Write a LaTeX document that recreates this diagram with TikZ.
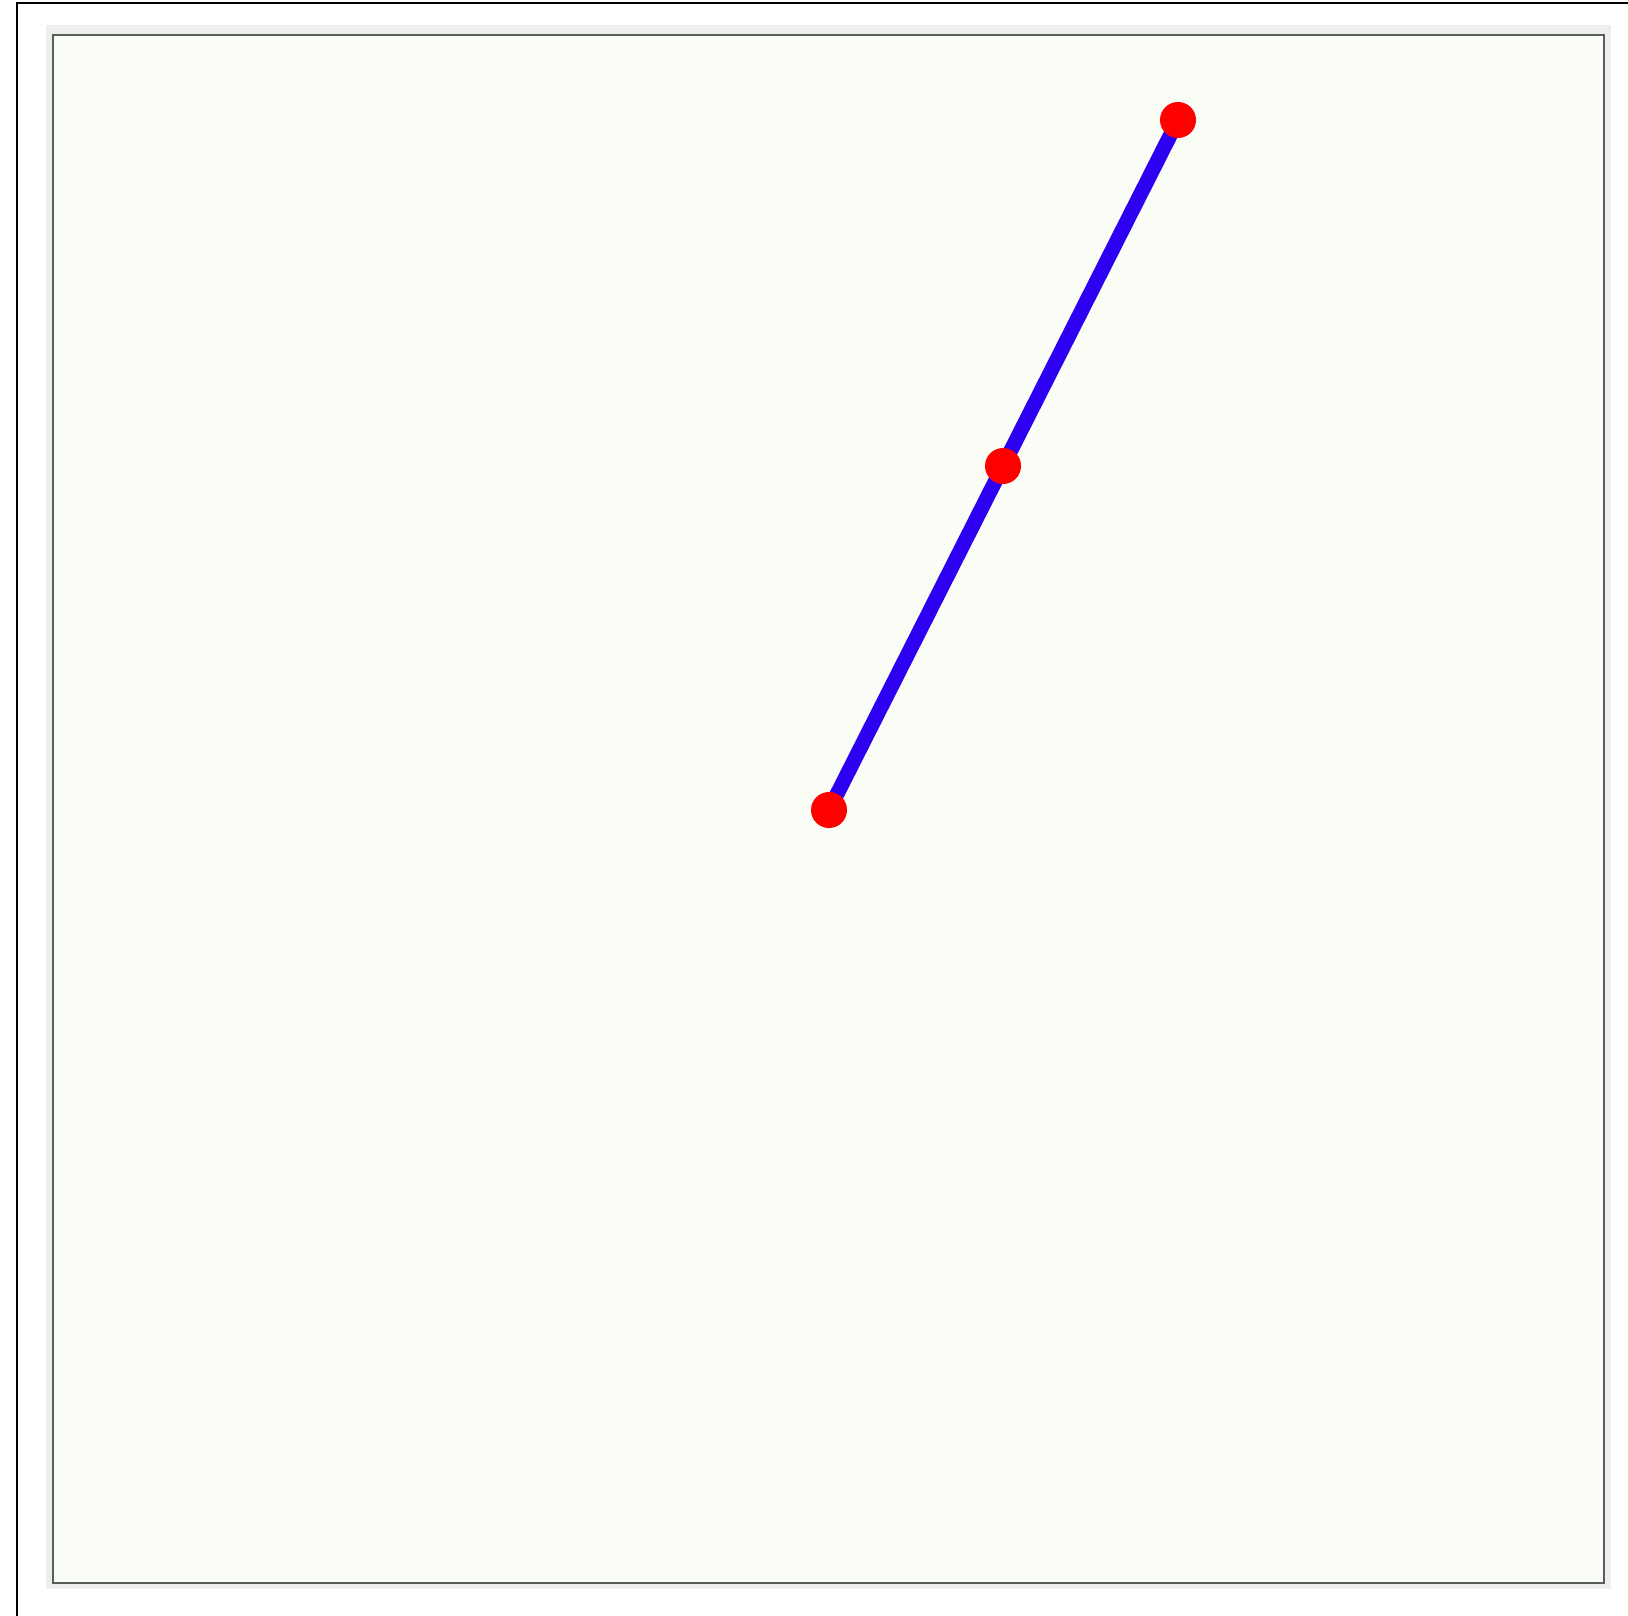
\documentclass[tikz,border=0pt]{standalone}
\usepackage{tikz}

\pgfdeclarelayer{back}
\pgfdeclarelayer{mid}
\pgfsetlayers{back,mid,main}

\begin{document}
\begin{tikzpicture}[
  x=0.01cm,y=-0.01cm,
  segment/.style={draw=segBlue,line width=4.2pt},
  joint/.style={circle,fill=jointRed,draw=none,
                minimum size=0.36cm,inner sep=0pt},
  panel/.style={draw=panelEdge,fill=panelFill,line width=0.8pt},
]
\definecolor{segBlue}{HTML}{2E00F2}
\definecolor{jointRed}{HTML}{FF0000}
\definecolor{panelEdge}{HTML}{5A5E5A}
\definecolor{panelFill}{HTML}{FAFDF6}
\definecolor{bandGray}{HTML}{ECEFEC}

\useasboundingbox (0,0) rectangle (1628,1616);

% window frame, cut at right and bottom
\begin{pgfonlayer}{back}
\fill[white] (0,0) rectangle (1628,1616);
\draw[black,line width=0.6pt] (17,1616)--(17,3)--(1628,3);
\fill[bandGray] (46,25) rectangle (1611,1589);
\draw[panel] (53,35) rectangle (1604,1583);
\end{pgfonlayer}

% the three joints of the arm
\node[joint] (top) at (1178,120) {};
\node[joint] (mid) at (1003,466) {};
\node[joint] (base) at (829,810) {};

\begin{pgfonlayer}{mid}
\draw[segment] (base.center)--(mid.center) (mid.center)--(top.center);
\end{pgfonlayer}
\end{tikzpicture}
\end{document}
